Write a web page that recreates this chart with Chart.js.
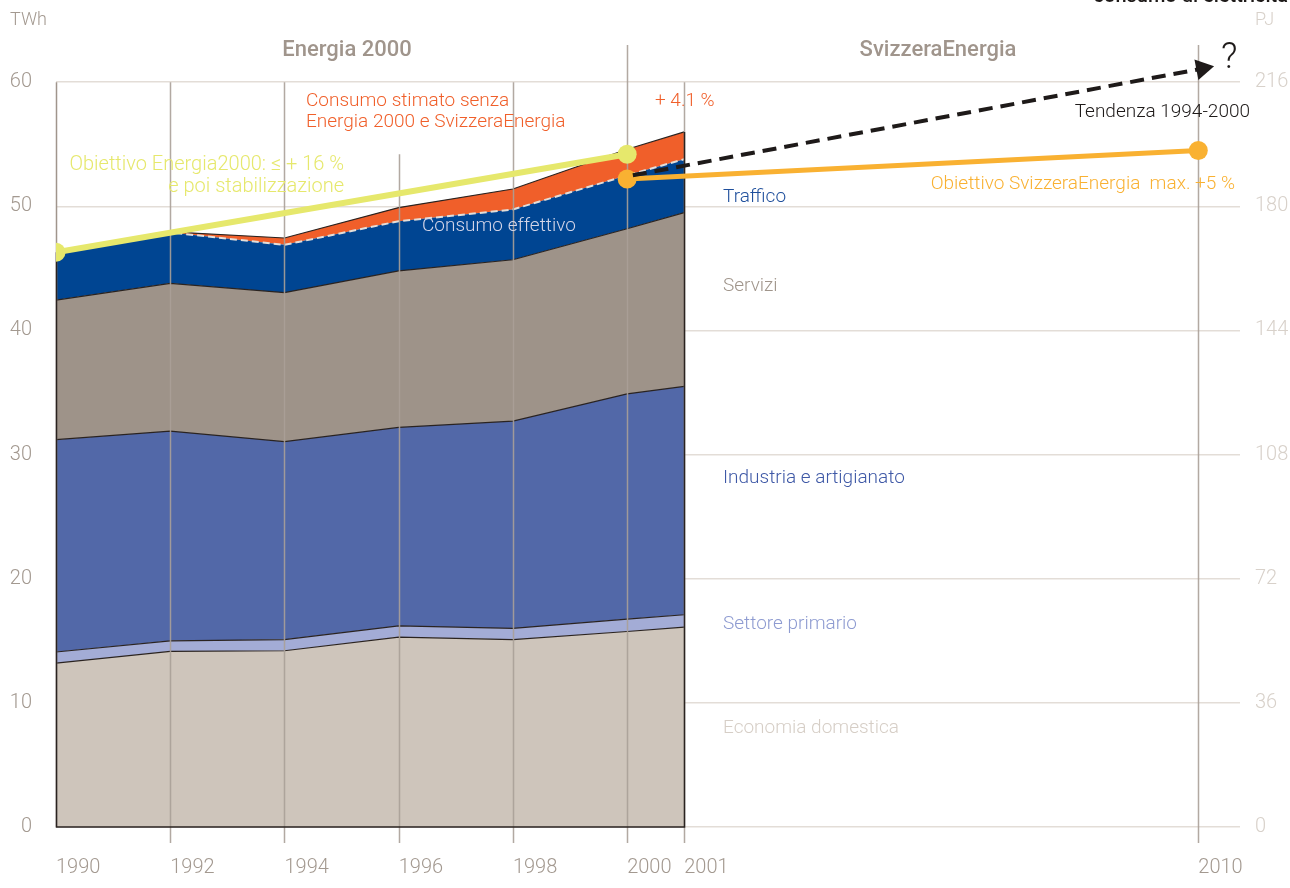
<!DOCTYPE html>
<html>
<head>
<meta charset="utf-8">
<script src="https://cdn.jsdelivr.net/npm/chart.js@4/dist/chart.umd.min.js"></script>
<style>
  html, body { margin: 0; padding: 0; background: #fff; }
  #wrap { width: 1290px; height: 888px; }
</style>
</head>
<body>
<div id="wrap"><canvas id="chart" width="1290" height="888"></canvas></div>
<script>
// years of the stacked sectors (TWh)
const years = [1990, 1992, 1994, 1996, 1998, 2000, 2001];
const economiaDomestica = [13.2, 14.15, 14.2, 15.3, 15.1, 15.75, 16.1];
const settorePrimario = [0.9, 0.85, 0.9, 0.9, 0.9, 1.0, 1.0];
const industria = [17.1, 16.9, 15.95, 16.0, 16.7, 18.15, 18.4];
const servizi = [11.25, 11.9, 12.0, 12.6, 13.0, 13.3, 14.0];
const traffico = [3.85, 4.1, 3.85, 4.0, 4.05, 4.3, 4.3];
const senzaProgrammi = [0, 0.05, 0.55, 1.1, 1.65, 2.1, 2.2];

// target and trend lines
const obiettivoE2000Years = [1990, 2000];
const obiettivoE2000 = [46.3, 54.2];
const obiettivoSEYears = [2000, 2010];
const obiettivoSE = [52.2, 54.5];
const tendenzaYears = [2000.1, 2010.07];
const tendenza = [52.5, 61.1];

// axis ticks
const xTicks = [1990, 1992, 1994, 1996, 1998, 2000, 2001, 2010];
const yTicks = [0, 10, 20, 30, 40, 50, 60];
const pjTicks = [0, 36, 72, 108, 144, 180, 216];

const FONT = "Roboto, 'DejaVu Sans Condensed', sans-serif";
const EDGE = '#2a2320';

const toPts = (xs, ys) => xs.map((x, i) => ({x: x, y: ys[i]}));

function area(label, values, color, order, fill, border) {
    return Object.assign({
        label: label,
        data: toPts(years, values),
        backgroundColor: color,
        borderColor: EDGE,
        borderWidth: 1.2,
        fill: fill,
        pointRadius: 0,
        tension: 0,
        order: order
    }, border || {});
}

const datasets = [
    area('Economia domestica', economiaDomestica, '#cec5bb', 1, 'origin'),
    area('Settore primario', settorePrimario, '#a3acd6', 2, '-1'),
    area('Industria e artigianato', industria, '#5268a8', 3, '-1'),
    area('Servizi', servizi, '#9e9389', 4, '-1'),
    area('Traffico', traffico, '#004592', 5, '-1', {borderColor: '#e4ded8', borderWidth: 2, borderDash: [7, 4]}),
    area('Consumo stimato senza Energia 2000 e SvizzeraEnergia', senzaProgrammi, '#f05f2a', 6, '-1'),
    {
        label: 'Obiettivo Energia2000',
        data: toPts(obiettivoE2000Years, obiettivoE2000),
        stack: 'e2000',
        borderColor: '#e6e86c',
        backgroundColor: '#e6e86c',
        borderWidth: 6,
        pointRadius: 9.5,
        pointBorderWidth: 0,
        fill: false,
        order: 0
    },
    {
        label: 'Tendenza 1994-2000',
        data: toPts(tendenzaYears, tendenza),
        stack: 'trend',
        borderColor: '#1e1a19',
        backgroundColor: '#1e1a19',
        borderWidth: 4,
        borderDash: [14, 8],
        pointStyle: 'triangle',
        pointRadius: [0, 12],
        pointRotation: 79,
        pointBorderWidth: 0,
        fill: false,
        order: 0
    },
    {
        label: 'Obiettivo SvizzeraEnergia',
        data: toPts(obiettivoSEYears, obiettivoSE),
        stack: 'se',
        borderColor: '#f9b132',
        backgroundColor: '#f9b132',
        borderWidth: 5,
        pointRadius: 9.5,
        pointBorderWidth: 0,
        fill: false,
        order: 0
    }
];

// vertical year lines: year and the TWh value where the line starts on top
const yearLines = [[1992, 60], [1994, 60], [1996, 54.2], [1998, 60], [2000, 63], [2001, 60], [2010, 63]];

const notes = [
    {t: 'TWh', x: 10, y: 20, c: '#a39990', f: '300 18px'},
    {t: 'PJ', x: 1255, y: 20, c: '#d8d1ca', f: '300 18px'},
    {t: 'consumo di elettricità', x: 1288, y: -3, c: '#1e1a19', f: '500 20px', a: 'right'},
    {t: 'Energia 2000', x: 347, y: 50, c: '#a0958c', f: '500 22px', a: 'center'},
    {t: 'SvizzeraEnergia', x: 938, y: 50, c: '#a0958c', f: '500 22px', a: 'center'},
    {t: 'Consumo stimato senza', x: 306, y: 101, c: '#f05f2a', f: '300 19px'},
    {t: 'Energia 2000 e SvizzeraEnergia', x: 306, y: 122, c: '#f05f2a', f: '300 19px'},
    {t: '+ 4.1 %', x: 655, y: 101, c: '#f05f2a', f: '300 19px'},
    {t: 'Obiettivo Energia2000: \u2264 + 16 %', x: 344, y: 165, c: '#e6e86c', f: '300 20px', a: 'right'},
    {t: 'e poi stabilizzazione', x: 344, y: 187, c: '#e6e86c', f: '300 20px', a: 'right'},
    {t: 'Consumo effettivo', x: 422, y: 226, c: '#d3d5e8', f: '300 19px'},
    {t: 'Tendenza 1994-2000', x: 1250, y: 112, c: '#1e1a19', f: '300 19px', a: 'right'},
    {t: 'Obiettivo SvizzeraEnergia  max. +5 %', x: 1235, y: 184, c: '#f9b132', f: '300 19px', a: 'right'},
    {t: '?', x: 1221, y: 59, c: '#1e1a19', f: '300 36px'},
    {t: 'Traffico', x: 723, y: 197, c: '#1f4f9c', f: '300 19px'},
    {t: 'Servizi', x: 723, y: 286, c: '#a0958b', f: '300 19px'},
    {t: 'Industria e artigianato', x: 723, y: 478, c: '#3e58a6', f: '300 19px'},
    {t: 'Settore primario', x: 723, y: 624, c: '#8e9bd1', f: '300 19px'},
    {t: 'Economia domestica', x: 723, y: 728, c: '#d6cec6', f: '300 19px'}
];

function stackTop(i) {
    return economiaDomestica[i] + settorePrimario[i] + industria[i] + servizi[i] + traffico[i] + senzaProgrammi[i];
}

const decor = {
    id: 'decor',
    afterDatasetDraw(chart, args) {
        // after the last area is drawn, before the target lines
        if (args.index !== 0) return;
        const ctx = chart.ctx, xs = chart.scales.x, ys = chart.scales.y;
        const y0 = ys.getPixelForValue(0);
        ctx.save();
        ctx.lineWidth = 1.5;
        ctx.strokeStyle = 'rgba(170,160,152,0.9)';
        yearLines.forEach(([yr, top]) => {
            const px = Math.round(xs.getPixelForValue(yr)) + 0.5;
            ctx.beginPath();
            ctx.moveTo(px, ys.getPixelForValue(top));
            ctx.lineTo(px, y0 + 16);
            ctx.stroke();
        });
        // left axis
        const xl = Math.round(xs.getPixelForValue(1990)) + 0.5;
        ctx.strokeStyle = '#a0958c';
        ctx.beginPath();
        ctx.moveTo(xl, ys.getPixelForValue(60));
        ctx.lineTo(xl, y0);
        ctx.stroke();
        // dark outline of the stacked block
        const last = years.length - 1;
        const xr = Math.round(xs.getPixelForValue(years[last])) + 0.5;
        ctx.strokeStyle = EDGE;
        ctx.beginPath();
        ctx.moveTo(xl, ys.getPixelForValue(stackTop(0)));
        ctx.lineTo(xl, y0);
        ctx.lineTo(xr, y0);
        ctx.lineTo(xr, ys.getPixelForValue(stackTop(last)));
        ctx.stroke();
        ctx.restore();
    },
    afterDraw(chart) {
        const ctx = chart.ctx;
        ctx.save();
        ctx.textBaseline = 'middle';
        notes.forEach(n => {
            ctx.font = n.f + ' ' + FONT;
            ctx.fillStyle = n.c;
            ctx.textAlign = n.a || 'left';
            ctx.fillText(n.t, n.x, n.y);
        });
        ctx.restore();
    }
};

new Chart(document.getElementById('chart').getContext('2d'), {
    type: 'line',
    data: {datasets: datasets},
    plugins: [decor],
    options: {
        responsive: false,
        animation: false,
        layout: {padding: {top: 45}},
        plugins: {legend: {display: false}, tooltip: {enabled: false}},
        scales: {
            x: {
                type: 'linear',
                min: 1990,
                max: 2010.73,
                afterBuildTicks: s => { s.ticks = xTicks.map(v => ({value: v})); },
                afterFit: s => { s.height = 61; },
                grid: {display: false},
                border: {display: false},
                ticks: {
                    align: 'start',
                    autoSkip: false,
                    maxRotation: 0,
                    padding: 21,
                    color: '#a39990',
                    font: {family: FONT, size: 20, weight: 300},
                    callback: v => String(v)
                }
            },
            y: {
                stacked: true,
                min: 0,
                max: 63,
                afterBuildTicks: s => { s.ticks = yTicks.map(v => ({value: v})); },
                afterFit: s => { s.width = 56; },
                grid: {color: '#e3ddd7', lineWidth: 1.5, drawTicks: false},
                border: {display: false},
                ticks: {padding: 24, color: '#a39990', font: {family: FONT, size: 20, weight: 300}}
            },
            pj: {
                position: 'right',
                min: 0,
                max: 63 * 3.6,
                afterBuildTicks: s => { s.ticks = pjTicks.map(v => ({value: v})); },
                afterFit: s => { s.width = 50; },
                grid: {display: false, drawTicks: false},
                border: {display: false},
                ticks: {padding: 15, color: '#d8d1ca', font: {family: FONT, size: 20, weight: 300}}
            }
        }
    }
});
</script>
</body>
</html>
